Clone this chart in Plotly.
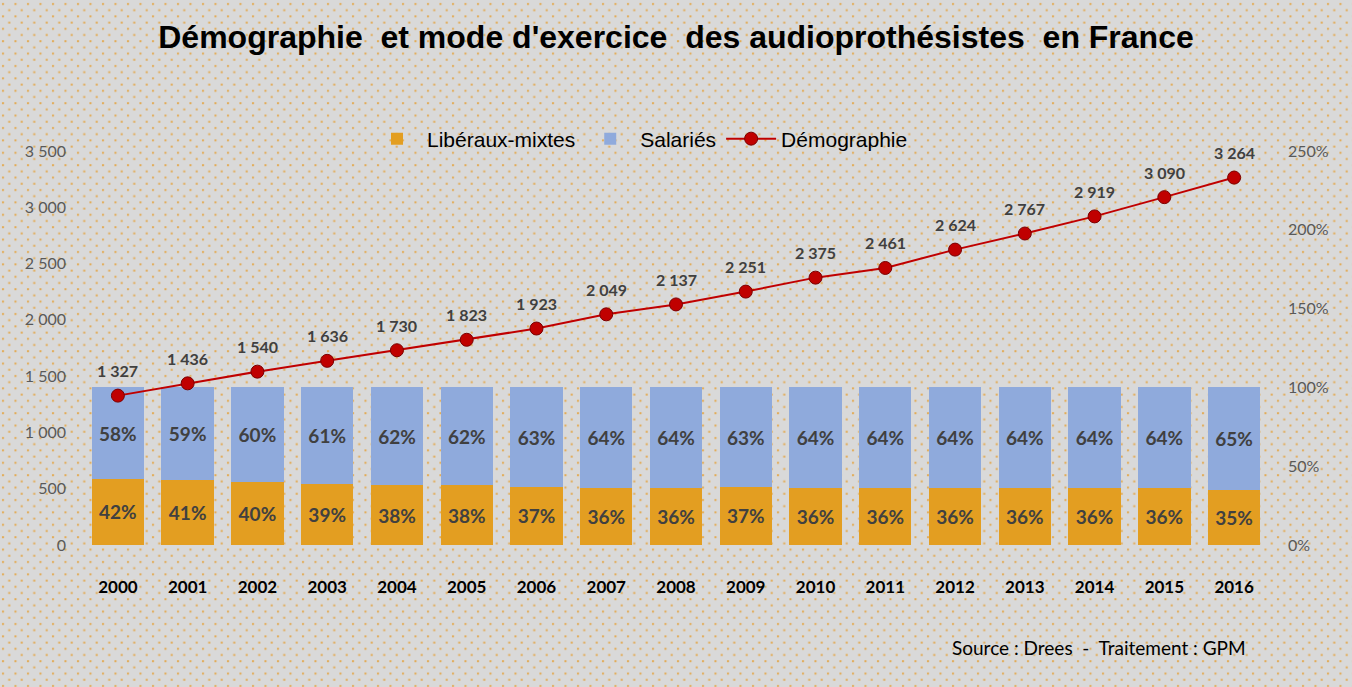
import base64
import plotly.graph_objects as go

years = [str(y) for y in range(2000, 2017)]
liberaux = [42, 41, 40, 39, 38, 38, 37, 36, 36, 37, 36, 36, 36, 36, 36, 36, 35]
salaries = [58, 59, 60, 61, 62, 62, 63, 64, 64, 63, 64, 64, 64, 64, 64, 64, 65]
demographie = [1327, 1436, 1540, 1636, 1730, 1823, 1923, 2049, 2137, 2251,
               2375, 2461, 2624, 2767, 2919, 3090, 3264]

W, H = 1352, 687
ML, MR, MT, MB = 83, 83, 151, 142
PW, PH = W - ML - MR, H - MT - MB

# dotted background texture
svg = f'''<svg xmlns="http://www.w3.org/2000/svg" width="{W}" height="{H}">
<defs><pattern id="p" width="12.5" height="12.4" patternUnits="userSpaceOnUse">
<rect x="2" y="3" width="2" height="2" fill="#E59A26" opacity="0.75"/>
<rect x="8.25" y="9.2" width="2" height="2" fill="#E59A26" opacity="0.75"/>
</pattern></defs>
<rect width="{W}" height="{H}" fill="#D9D9D9"/>
<rect width="{W}" height="{H}" fill="url(#p)"/>
</svg>'''
bg_uri = "data:image/svg+xml;base64," + base64.b64encode(svg.encode()).decode()

pct_font = dict(family="Lato, sans-serif", size=19, color="#404040", weight="bold")

fig = go.Figure()
fig.add_trace(go.Bar(
    x=years, y=liberaux, name="Libéraux-mixtes", yaxis="y",
    marker=dict(color="#E39E21", line=dict(width=0)),
    text=[f"{v}%" for v in liberaux], textposition="inside",
    insidetextanchor="middle", textangle=0, textfont=pct_font,
    hoverinfo="skip",
))
fig.add_trace(go.Bar(
    x=years, y=salaries, name="Salariés", yaxis="y",
    marker=dict(color="#8FAADC", line=dict(width=0)),
    text=[f"{v}%" for v in salaries], textposition="inside",
    insidetextanchor="middle", textangle=0, textfont=pct_font,
    hoverinfo="skip",
))
fig.add_trace(go.Scatter(
    x=years, y=demographie, name="Démographie", yaxis="y2",
    mode="lines+markers",
    line=dict(color="#C00000", width=2),
    marker=dict(color="#C00000", size=13, line=dict(color="#7A0000", width=1)),
    cliponaxis=False,
))

annotations = [
    dict(x=i, y=v, xref="x", yref="y2", text=f"{v:,}".replace(",", " "),
         showarrow=False, yshift=25, yanchor="middle",
         font=dict(family="Lato, sans-serif", size=16, color="#404040", weight="bold"))
    for i, v in enumerate(demographie)
]
annotations.append(dict(text="Source : Drees  -  Traitement : GPM", xref="paper", yref="paper",
                        x=(1248 - ML) / PW, xanchor="right", y=-(647 - 545) / PH, yanchor="middle",
                        showarrow=False,
                        font=dict(family="Lato, sans-serif", size=19, color="#000000")))

fig.update_layout(
    width=W, height=H,
    paper_bgcolor="#D9D9D9", plot_bgcolor="rgba(0,0,0,0)",
    barmode="stack", bargap=0.25,
    separators=", ",
    margin=dict(l=ML, r=MR, t=MT, b=MB, autoexpand=False),
    images=[dict(source=bg_uri, xref="paper", yref="paper",
                 x=-ML / PW, y=1 + MT / PH, sizex=W / PW, sizey=H / PH,
                 xanchor="left", yanchor="top", sizing="stretch", layer="below")],
    title=dict(text="<b>Démographie  et mode d'exercice  des audioprothésistes  en France</b>",
               x=0.5, xanchor="center", y=1 - 37 / H, yanchor="middle",
               font=dict(family="Liberation Sans, Arial", size=32, color="#000000")),
    legend=dict(orientation="h", x=(640 - ML) / PW, xanchor="center",
                y=1 + (151 - 139) / PH, yanchor="middle",
                font=dict(family="Liberation Sans, Arial", size=21, color="#000000"),
                bgcolor="rgba(0,0,0,0)", traceorder="normal", itemwidth=50),
    xaxis=dict(type="category", range=[-0.5, len(years) - 0.5],
               showgrid=False, showline=False, ticks="", automargin=False,
               tickfont=dict(family="Lato, sans-serif", size=17, color="#000000", weight="bold"),
               ticklabelstandoff=30),
    yaxis=dict(side="right", range=[0, 250], dtick=50, ticksuffix="%", automargin=False,
               showgrid=False, zeroline=False, showline=False,
               tickfont=dict(family="Lato, sans-serif", size=16, color="#595959"),
               ticklabelstandoff=18),
    yaxis2=dict(side="left", overlaying="y", range=[0, 3500], dtick=500, automargin=False,
                tickformat=",d", showgrid=False, zeroline=False, showline=False,
                tickfont=dict(family="Lato, sans-serif", size=16, color="#595959"),
                ticklabelstandoff=16),
    annotations=annotations,
)

fig.write_html("out.html", config={"displayModeBar": False})
with open("out.html", encoding="utf-8") as f:
    html = f.read()
html = html.replace("<head>", "<head><style>html,body{margin:0;padding:0;overflow:hidden;}</style>", 1)
with open("out.html", "w", encoding="utf-8") as f:
    f.write(html)
